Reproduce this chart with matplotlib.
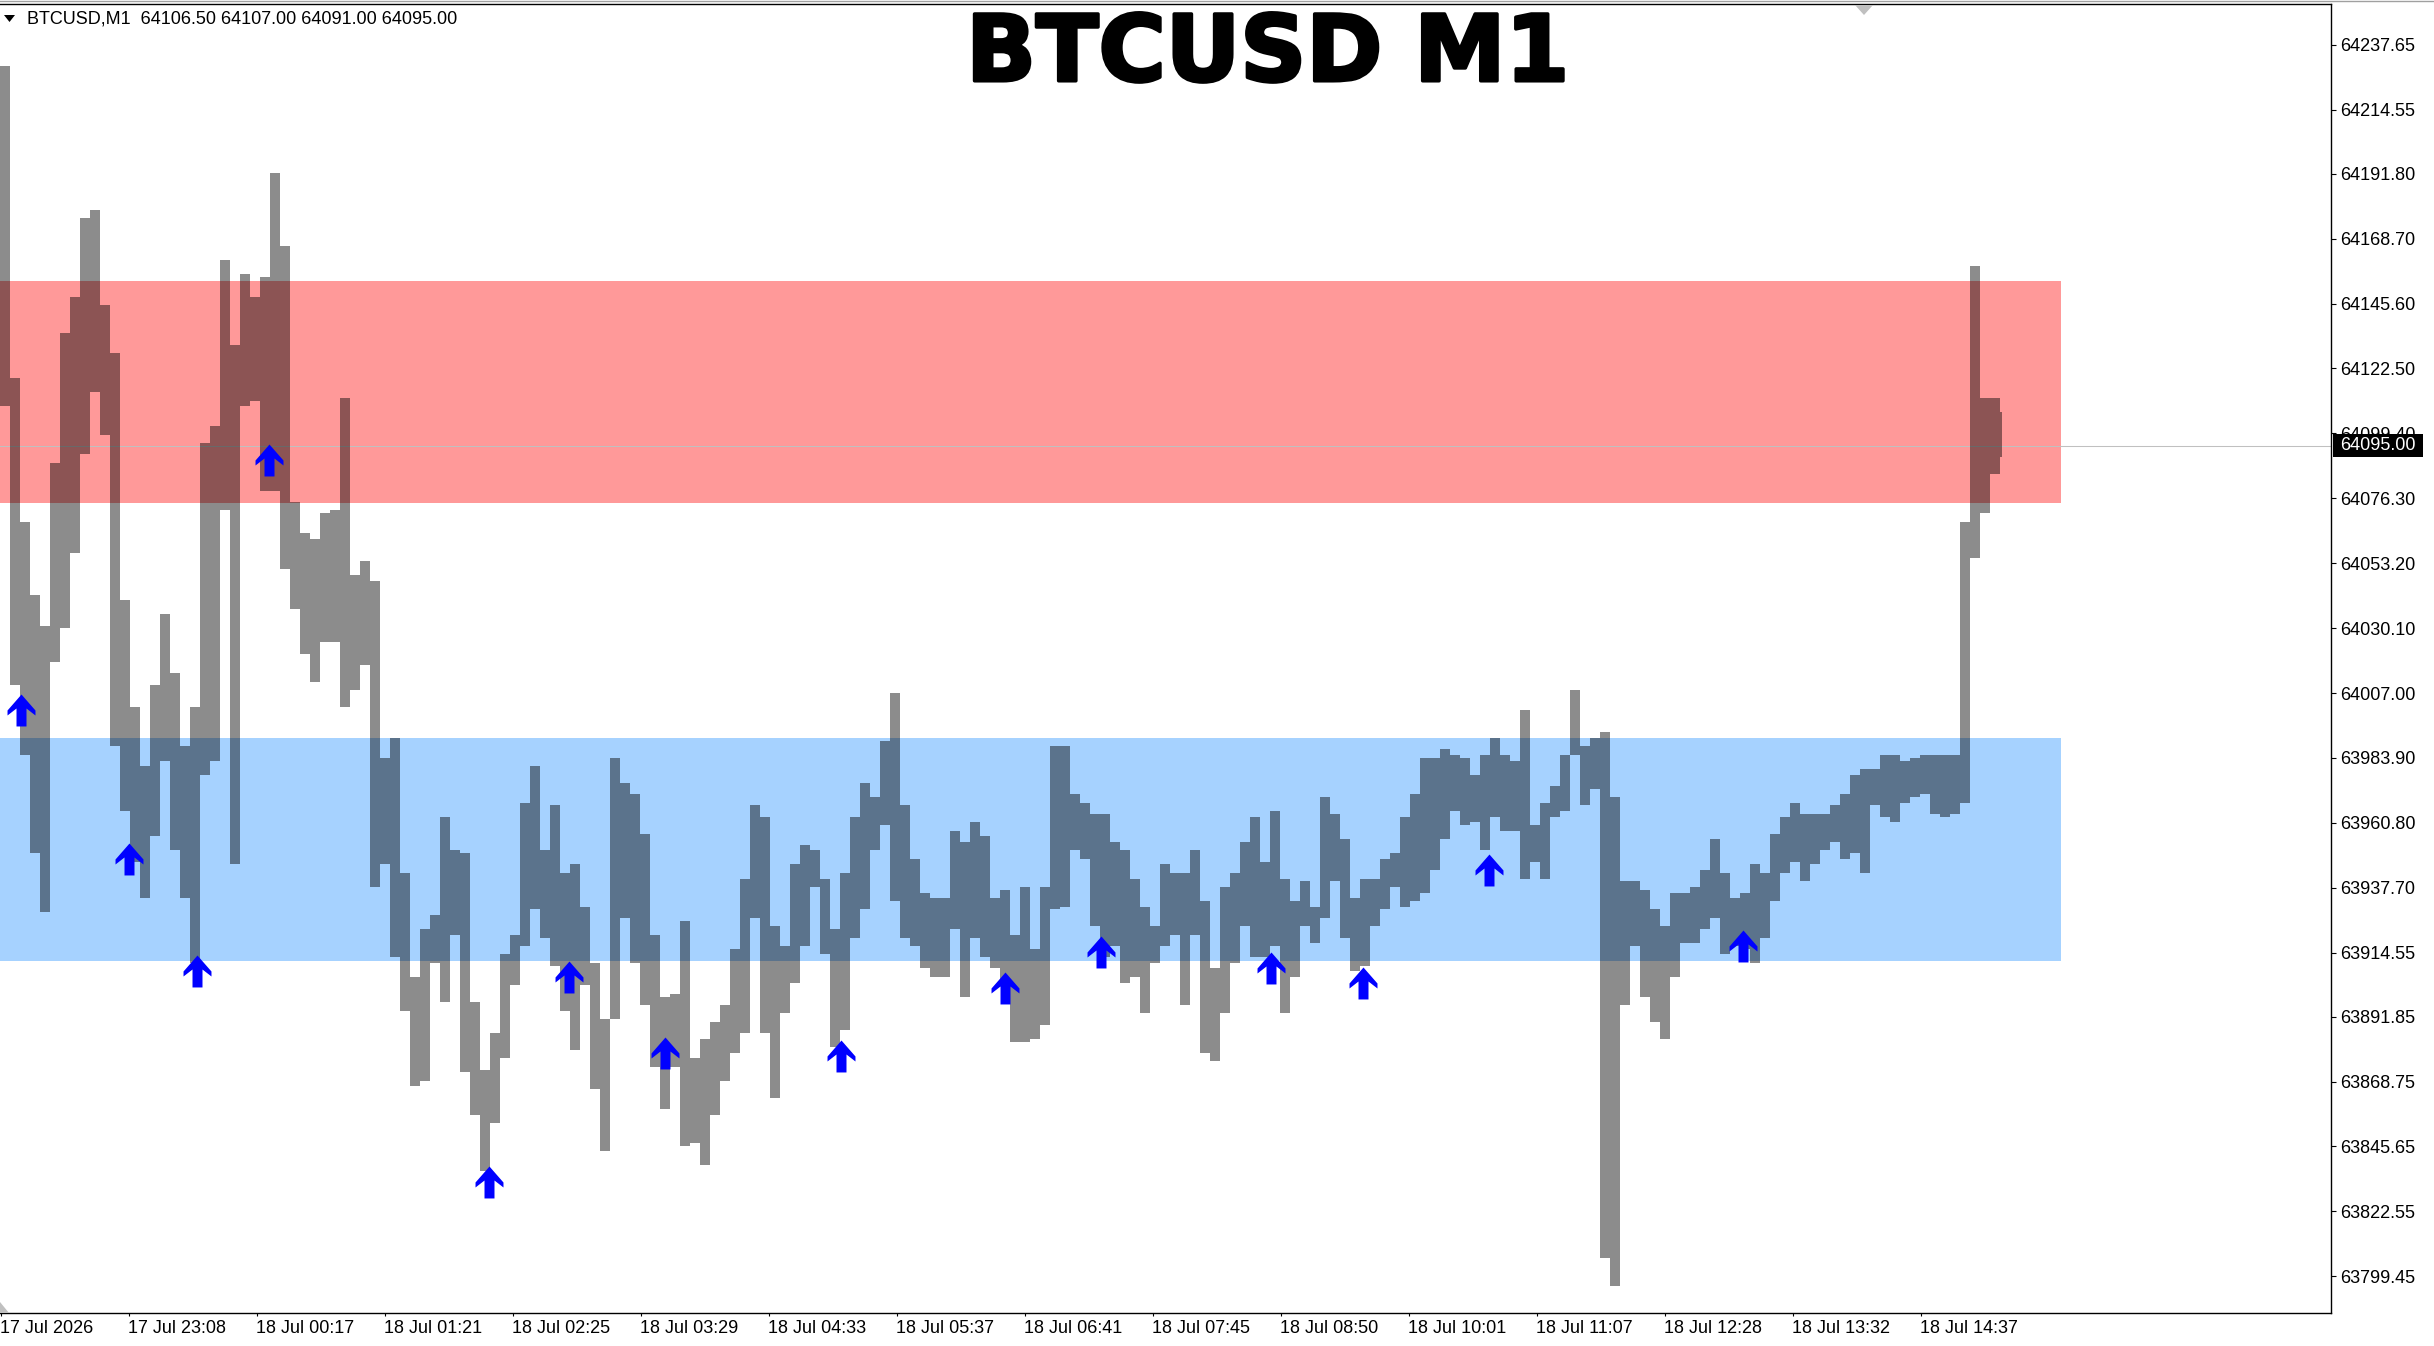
import matplotlib
matplotlib.use("Agg")
import matplotlib.pyplot as plt
import matplotlib.patheffects as pe
import numpy as np
from matplotlib.path import Path
from matplotlib.patches import Polygon, Rectangle
from matplotlib.lines import Line2D

# ---------------- data ----------------
GROUP_SIZE = 5          # bars per high/low sample
N_BARS = 1001           # number of M1 bars on screen

HIGH = [64230, 64119, 64068, 64042, 64031, 64089, 64135, 64148, 64176, 64179,
        64145, 64128, 64040, 64002, 63981, 64010, 64035, 64014, 63988, 64002,
        64096, 64102, 64161, 64131, 64156, 64148, 64155, 64192, 64166, 64075,
        64064, 64062, 64071, 64072, 64112, 64049, 64054, 64047, 63984, 63991,
        63943, 63906, 63923, 63928, 63963, 63951, 63950, 63897, 63873, 63886,
        63914, 63921, 63968, 63981, 63951, 63967, 63943, 63946, 63931, 63911,
        63891, 63984, 63975, 63971, 63957, 63921, 63899, 63900, 63926, 63877,
        63884, 63890, 63896, 63916, 63941, 63967, 63963, 63924, 63917, 63946,
        63953, 63951, 63941, 63923, 63943, 63963, 63975, 63970, 63990, 64007,
        63967, 63948, 63936, 63934, 63934, 63958, 63954, 63961, 63956, 63934,
        63937, 63921, 63938, 63916, 63938, 63988, 63988, 63971, 63968, 63964,
        63964, 63954, 63951, 63941, 63931, 63924, 63946, 63943, 63943, 63951,
        63933, 63909, 63938, 63943, 63954, 63963, 63947, 63965, 63941, 63933,
        63940, 63931, 63970, 63964, 63955, 63934, 63941, 63941, 63948, 63950,
        63963, 63971, 63984, 63984, 63987, 63985, 63984, 63978, 63985, 63991,
        63985, 63983, 64001, 63960, 63968, 63974, 63985, 64008, 63988, 63991,
        63993, 63970, 63940, 63940, 63937, 63930, 63924, 63936, 63936, 63938,
        63944, 63955, 63943, 63934, 63936, 63946, 63943, 63957, 63963, 63968,
        63964, 63964, 63964, 63967, 63971, 63978, 63980, 63980, 63985, 63985,
        63983, 63984, 63985, 63985, 63985, 63985, 64068, 64159, 64112, 64112,
        64107]

LOW = [64109, 64010, 63985, 63950, 63929, 64018, 64030, 64057, 64092, 64114,
       64099, 63988, 63965, 63947, 63934, 63956, 63983, 63951, 63934, 63911,
       63978, 63983, 64072, 63946, 64109, 64111, 64079, 64079, 64051, 64037,
       64021, 64011, 64025, 64025, 64002, 64008, 64017, 63938, 63946, 63913,
       63894, 63867, 63869, 63911, 63897, 63921, 63872, 63857, 63837, 63854,
       63877, 63903, 63917, 63930, 63920, 63910, 63894, 63880, 63903, 63866,
       63844, 63891, 63927, 63911, 63896, 63874, 63859, 63874, 63846, 63847,
       63839, 63857, 63869, 63879, 63886, 63927, 63886, 63863, 63893, 63904,
       63917, 63938, 63914, 63881, 63887, 63920, 63930, 63951, 63960, 63933,
       63920, 63917, 63909, 63906, 63906, 63923, 63899, 63920, 63913, 63909,
       63904, 63883, 63883, 63884, 63889, 63930, 63931, 63951, 63948, 63924,
       63913, 63917, 63904, 63906, 63893, 63911, 63917, 63921, 63896, 63921,
       63879, 63876, 63893, 63911, 63924, 63913, 63913, 63917, 63893, 63906,
       63924, 63918, 63927, 63940, 63920, 63908, 63910, 63924, 63930, 63938,
       63931, 63933, 63936, 63944, 63955, 63965, 63960, 63961, 63951, 63963,
       63958, 63958, 63941, 63947, 63941, 63963, 63965, 63985, 63967, 63973,
       63806, 63796, 63896, 63917, 63899, 63890, 63884, 63906, 63918, 63918,
       63923, 63927, 63914, 63917, 63916, 63911, 63920, 63933, 63943, 63947,
       63940, 63946, 63951, 63954, 63948, 63950, 63943, 63967, 63963, 63961,
       63968, 63970, 63971, 63964, 63963, 63964, 63968, 64055, 64071, 64085,
       64091]

ARROW_BARS = [10, 64, 98, 134, 244, 284, 332, 420, 502, 550, 635, 681, 744, 871]
ARROW_PRICES = [64001, 63948, 63908, 64090, 63833, 63906, 63879, 63878,
                63902, 63915, 63909, 63904, 63944, 63917]

SUPPLY_ZONE = (64074.6, 64153.6)
DEMAND_ZONE = (63911.6, 63991.0)
ZONE_END_BAR = 1030
CURRENT_PRICE = 64095.00

Y_TICKS = [64237.65, 64214.55, 64191.80, 64168.70, 64145.60, 64122.50, 64099.40,
           64076.30, 64053.20, 64030.10, 64007.00, 63983.90, 63960.80, 63937.70,
           63914.55, 63891.85, 63868.75, 63845.65, 63822.55, 63799.45]
X_TICK_BARS = [0, 64, 128, 192, 256, 320, 384, 448, 512, 576, 640, 704, 768, 832, 896, 960]
X_TICK_LABELS = ["17 Jul 2026", "17 Jul 23:08", "18 Jul 00:17", "18 Jul 01:21",
                 "18 Jul 02:25", "18 Jul 03:29", "18 Jul 04:33", "18 Jul 05:37",
                 "18 Jul 06:41", "18 Jul 07:45", "18 Jul 08:50", "18 Jul 10:01",
                 "18 Jul 11:07", "18 Jul 12:28", "18 Jul 13:32", "18 Jul 14:37"]
HEADER = "BTCUSD,M1  64106.50 64107.00 64091.00 64095.00"
TITLE = "BTCUSD M1"

# ---------------- figure ----------------
W, H = 2434, 1346
DPI = 100
FONT = ["Liberation Sans", "DejaVu Sans"]
plt.rcParams["font.family"] = FONT

fig = plt.figure(figsize=(W / DPI, H / DPI), dpi=DPI, facecolor="white")

def fx(px):
    return px / W

def fy(py):
    return 1 - py / H

ax_left, ax_right, ax_top, ax_bottom = 0, 2331, 4, 1313
ax = fig.add_axes([fx(ax_left), fy(ax_bottom), fx(ax_right - ax_left),
                   (ax_bottom - ax_top) / H])
ax.set_facecolor("white")
ax.set_xlim(-0.25, 1165.25)
ax.set_ylim(63786.4, 64252.2)

# zones
ax.fill_between([-0.25, ZONE_END_BAR], SUPPLY_ZONE[0], SUPPLY_ZONE[1],
                color="#ff9999", linewidth=0, zorder=1)
ax.fill_between([-0.25, ZONE_END_BAR], DEMAND_ZONE[0], DEMAND_ZONE[1],
                color="#a6d2ff", linewidth=0, zorder=1)

# current price line
ax.axhline(CURRENT_PRICE, color="#c0c0c0", linewidth=0.75, zorder=2)

# price bars (high-low ranges of groups of M1 bars)
hi = np.array(HIGH, dtype=float)
lo = np.array(LOW, dtype=float)
starts = np.arange(len(hi)) * GROUP_SIZE
widths = np.minimum(GROUP_SIZE, N_BARS - starts)
centers = starts + (widths - 1) / 2.0
ax.bar(centers, hi - lo, bottom=lo, width=widths, color="black", alpha=0.45,
       linewidth=0, zorder=3)

# signal arrows
arrow_verts = [(0, 16), (14, 0), (14, -5), (5, 2), (5, -16), (-5, -16),
               (-5, 2), (-14, -5), (-14, 0), (0, 16)]
arrow_codes = [Path.MOVETO] + [Path.LINETO] * 8 + [Path.CLOSEPOLY]
arrow_marker = Path(arrow_verts, arrow_codes)
ax.plot(ARROW_BARS, ARROW_PRICES, linestyle="none", marker=arrow_marker,
        markersize=23, color="#0000ff", markeredgewidth=0, zorder=4)

# axes styling
for side in ("top", "right", "bottom"):
    ax.spines[side].set_color("black")
    ax.spines[side].set_linewidth(1.0)
ax.spines["left"].set_visible(False)

ax.yaxis.tick_right()
ax.set_yticks(Y_TICKS)
ax.set_yticklabels([f"{v:.2f}" for v in Y_TICKS])
ax.tick_params(axis="y", direction="out", length=3.6, width=0.8, pad=3.3,
               labelsize=13, colors="black")
ax.set_xticks(X_TICK_BARS)
ax.set_xticklabels(X_TICK_LABELS)
ax.tick_params(axis="x", direction="out", length=2.2, width=0.8, pad=3,
               labelsize=13, colors="black")
for lab in ax.get_xticklabels():
    lab.set_horizontalalignment("left")

# header and title
fig.add_artist(Polygon([(fx(4), fy(15)), (fx(15), fy(15)), (fx(9.5), fy(22))],
                       closed=True, transform=fig.transFigure,
                       facecolor="black", edgecolor="none", zorder=5))
fig.text(fx(27.5), fy(19.5), HEADER, fontsize=13, color="black",
         ha="left", va="center", family=FONT)
fig.text(fx(1267.5), fy(80.8), TITLE, fontsize=66, fontweight="bold",
         color="black", ha="center", va="baseline", family=["DejaVu Sans"],
         path_effects=[pe.withStroke(linewidth=2.5, foreground="black")])

# top grey border and small shift markers
fig.add_artist(Line2D([0, 1], [fy(1), fy(1)], transform=fig.transFigure,
                      color="#a0a0a0", linewidth=1.0, zorder=5))
fig.add_artist(Polygon([(fx(1855), fy(5)), (fx(1873), fy(5)), (fx(1864), fy(15))],
                       closed=True, transform=fig.transFigure,
                       facecolor="#c0c0c0", edgecolor="none", zorder=5))
fig.add_artist(Polygon([(fx(0), fy(1313)), (fx(9), fy(1313)), (fx(0), fy(1302))],
                       closed=True, transform=fig.transFigure,
                       facecolor="#c0c0c0", edgecolor="none", zorder=5))

# current price label on the price scale
fig.add_artist(Rectangle((fx(2333), fy(457)), fx(2423) - fx(2333), fy(434) - fy(457),
                         transform=fig.transFigure, facecolor="black",
                         edgecolor="none", zorder=6))
fig.text(fx(2340.5), fy(446), f"{CURRENT_PRICE:.2f}", fontsize=13, color="white",
         ha="left", va="center", zorder=7, family=FONT)

fig.savefig("out.png", dpi=DPI, facecolor="white")
